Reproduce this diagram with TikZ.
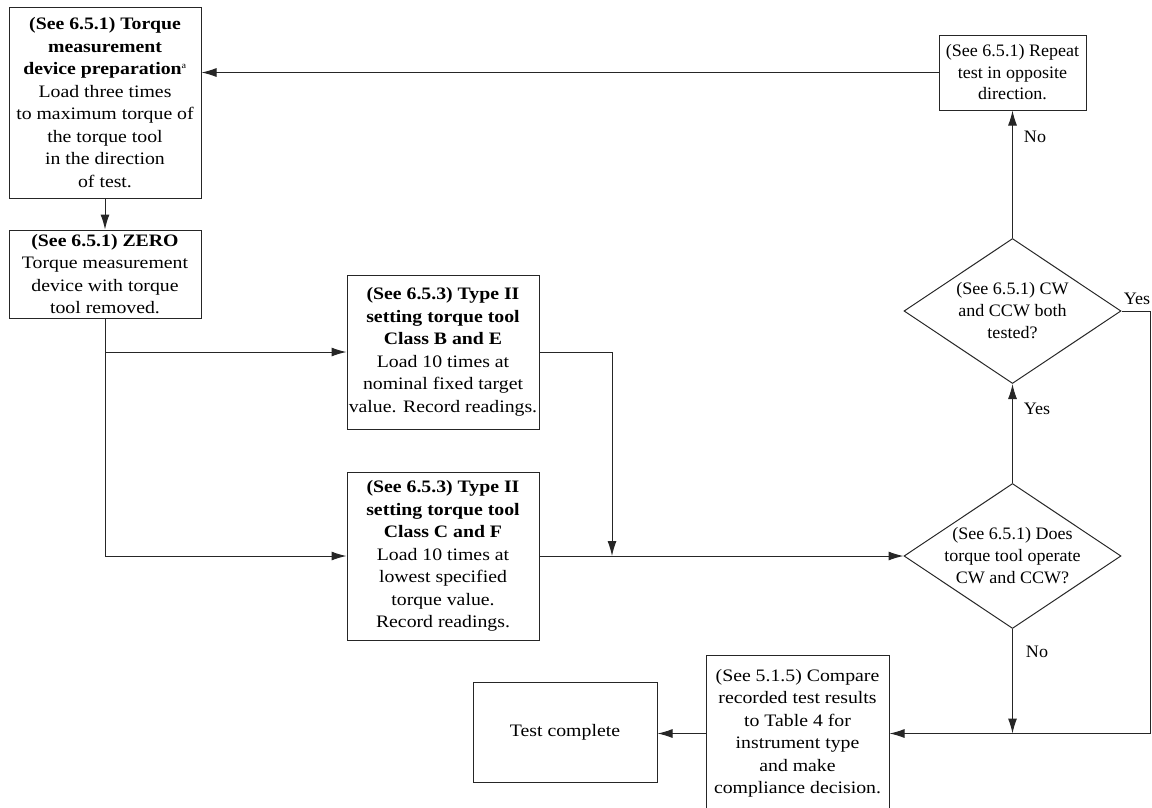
\documentclass[tikz,border=0pt]{standalone}
\usepackage{fontspec}
\setmainfont{Liberation Serif}[FakeStretch=1.13]
\newfontfamily\narrowfont{Liberation Serif}[FakeStretch=1.03]
\usetikzlibrary{shapes.geometric,arrows.meta}
\begin{document}
\begin{tikzpicture}[x=1pt,y=-1pt,
  box/.style={draw=black!85, line width=1pt, rectangle, inner sep=0pt, align=center,
    font=\fontsize{17.5}{22.5}\selectfont},
  nbox/.style={box, font=\narrowfont\fontsize{17.5}{21.5}\selectfont},
  dia/.style={draw=black!85, line width=1pt, diamond, inner sep=0pt},
  dtext/.style={align=center, inner sep=0pt, font=\narrowfont\fontsize{17.5}{22}\selectfont},
  lbl/.style={inner sep=0pt, font=\narrowfont\fontsize{17.5}{20}\selectfont},
  arr/.style={draw=black!85, line width=1pt, -{Latex[length=15pt,width=9pt]}}]
\useasboundingbox (0,0) rectangle (1152,807);

\node[box, minimum width=192pt, minimum height=191pt] (prep) at (105,102.5)
  {\textbf{(See 6.5.1) Torque}\\ \textbf{measurement}\\ \textbf{device preparation}\textsuperscript{\fontsize{9}{9}\selectfont a}\\
   Load three times\\ to maximum torque of\\ the torque tool\\ in the direction\\ of test.};
\node[box, minimum width=192pt, minimum height=88pt] (zero) at (105,274)
  {\textbf{(See 6.5.1) ZERO}\\ Torque measurement\\ device with torque\\ tool removed.};
\node[box, minimum width=192pt, minimum height=154pt] (be) at (443,352)
  {\textbf{(See 6.5.3) Type II}\\ \textbf{setting torque tool}\\ \textbf{Class B and E}\\ Load 10 times at\\ nominal fixed target\\ value. Record readings.};
\node[box, minimum width=192pt, minimum height=168pt] (cf) at (443,556)
  {\textbf{(See 6.5.3) Type II}\\ \textbf{setting torque tool}\\ \textbf{Class C and F}\\ Load 10 times at\\ lowest specified\\ torque value.\\ Record readings.};
\node[nbox, minimum width=147pt, minimum height=75pt] (rep) at (1012.5,72.5)
  {(See 6.5.1) Repeat\\ test in opposite\\ direction.};
\node[dia, minimum width=217pt, minimum height=145pt] (d2) at (1012.5,311) {};
\node[dtext] (d2t) at (d2.center) {(See 6.5.1) CW\\ and CCW both\\ tested?};
\node[dia, minimum width=217pt, minimum height=145pt] (d1) at (1012.5,556) {};
\node[dtext] (d1t) at (d1.center) {(See 6.5.1) Does\\ torque tool operate\\ CW and CCW?};
\node[box, minimum width=183pt, minimum height=157pt] (cmp) at (797.5,733.5)
  {(See 5.1.5) Compare\\ recorded test results\\ to Table 4 for\\ instrument type\\ and make\\ compliance decision.};
\node[box, minimum width=184pt, minimum height=100pt] (test) at (565,732)
  {Test complete};

\coordinate (merge) at (612,556);
\coordinate (rt) at (1150,311);

\draw[arr] (prep.south) -- (zero.north);
\draw[arr] (zero.south) |- (cf.west);
\draw[arr] (zero.south |- be.west) -- (be.west);
\draw[arr] (be.east) -| (merge);
\draw[arr] (cf.east) -- (d1.west);
\draw[arr] (d1.north) -- (d2.south);
\draw[arr] (d2.north) -- (rep.south);
\draw[arr] (rep.west) -- (rep.west -| prep.east);
\draw[arr] (d2.east) -- (rt) |- (cmp.east);
\draw[arr] (d1.south) -- (d1.south |- cmp.east);
\draw[arr] (cmp.west) -- (cmp.west -| test.east);

\node[lbl] (lyes1) at (1037,409) {Yes};
\node[lbl] (lno1) at (1035,137) {No};
\node[lbl] (lyes2) at (1137,299) {Yes};
\node[lbl] (lno2) at (1037,652) {No};
\end{tikzpicture}
\end{document}
